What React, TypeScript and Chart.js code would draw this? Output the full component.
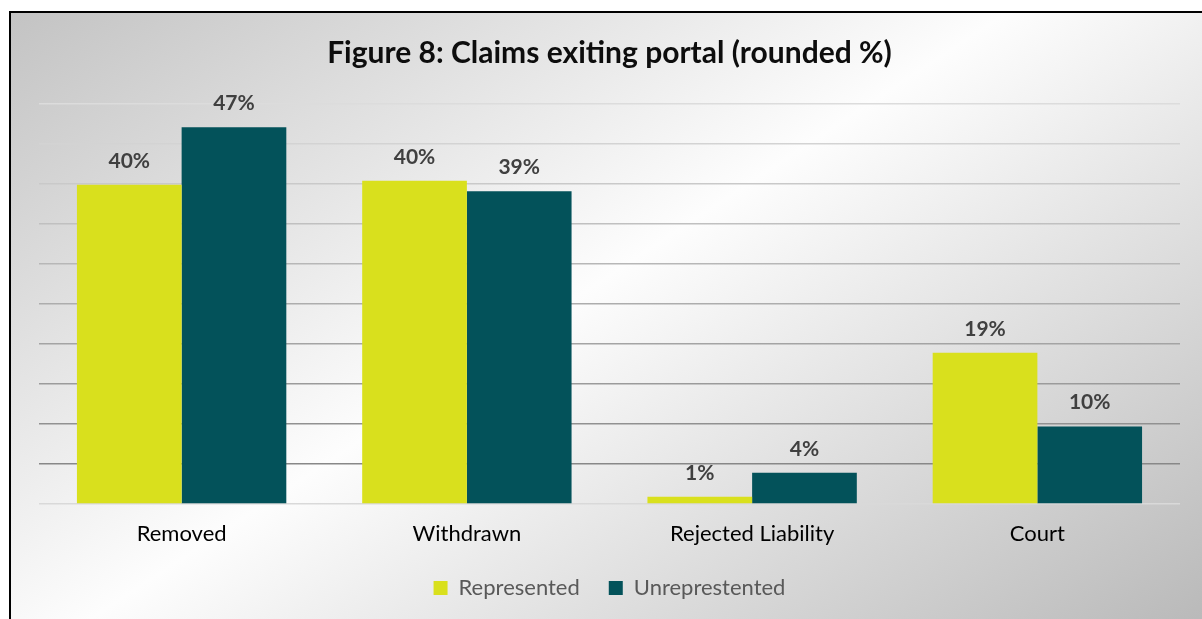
import React, { useEffect, useRef } from "react";
import { Chart, registerables } from "chart.js";

Chart.register(...registerables);

const categories = ["Removed", "Withdrawn", "Rejected Liability", "Court"];
const represented = [39.9, 40.4, 0.9, 18.9];
const unrepresented = [47.1, 39.1, 3.9, 9.7];
const seriesNames = ["Represented", "Unreprestented"];
const titleText = "Figure 8: Claims exiting portal (rounded %)";
const yMin = 0;
const yMax = 50;
const yStep = 5;

const FONT = "Lato, 'Open Sans', sans-serif";
const W = 1202;
const H = 619;

const backgroundPlugin = {
  id: "bgPanel",
  beforeDraw(chart: any) {
    const ctx = chart.ctx as CanvasRenderingContext2D;
    ctx.save();
    ctx.fillStyle = "#ffffff";
    ctx.fillRect(0, 0, chart.width, chart.height);
    const ux = 0.552, uy = 0.834;
    const wx = 620, wy = 268;
    const g = ctx.createLinearGradient(wx - 560 * ux, wy - 560 * uy, wx + 620 * ux, wy + 620 * uy);
    g.addColorStop(0, "#c2c2c2");
    g.addColorStop(0.475, "#fdfdfd");
    g.addColorStop(1, "#b9b9b9");
    ctx.fillStyle = g;
    ctx.fillRect(10, 12, chart.width - 10, chart.height - 12);
    ctx.strokeStyle = "#000000";
    ctx.lineWidth = 2;
    ctx.beginPath();
    ctx.moveTo(10, chart.height);
    ctx.lineTo(10, 12);
    ctx.lineTo(chart.width, 12);
    ctx.stroke();
    ctx.restore();
  },
};

const valueLabelPlugin = {
  id: "valueLabels",
  afterDatasetsDraw(chart: any) {
    const ctx = chart.ctx as CanvasRenderingContext2D;
    ctx.save();
    ctx.font = `bold 21px ${FONT}`;
    ctx.fillStyle = "#404040";
    ctx.textAlign = "center";
    ctx.textBaseline = "middle";
    chart.data.datasets.forEach((ds: any, di: number) => {
      const meta = chart.getDatasetMeta(di);
      meta.data.forEach((bar: any, i: number) => {
        const v = ds.data[i] as number;
        ctx.fillText(`${Math.round(v)}%`, bar.x, bar.y - 24);
      });
    });
    ctx.restore();
  },
};

function gridColor(index: number): string {
  if (index === 0) return "#d9d9d9";
  const g = Math.round(136 + ((index - 1) * (220 - 136)) / 9);
  return `rgb(${g},${g},${g})`;
}

export default function App() {
  const canvasRef = useRef<HTMLCanvasElement | null>(null);

  useEffect(() => {
    if (!canvasRef.current) return;
    const chart = new Chart(canvasRef.current, {
      type: "bar",
      data: {
        labels: categories,
        datasets: [
          {
            label: seriesNames[0],
            data: represented,
            backgroundColor: "#d9e01d",
            borderWidth: 0,
            categoryPercentage: 0.734,
            barPercentage: 1,
          },
          {
            label: seriesNames[1],
            data: unrepresented,
            backgroundColor: "#03525a",
            borderWidth: 0,
            categoryPercentage: 0.734,
            barPercentage: 1,
          },
        ],
      },
      options: {
        responsive: false,
        animation: false,
        devicePixelRatio: 1,
        layout: { padding: { left: 39, right: 22, top: 0, bottom: 10 } },
        plugins: {
          tooltip: { enabled: false },
          title: {
            display: true,
            text: titleText,
            color: "#0d0d0d",
            font: { family: FONT, size: 30, weight: "bold", lineHeight: 1.2 },
            padding: { top: 35, bottom: 33 },
          },
          legend: {
            display: true,
            position: "bottom",
            labels: {
              color: "#595959",
              font: { family: FONT, size: 22 },
              boxWidth: 14,
              boxHeight: 14,
              padding: 29,
            },
          },
        },
        scales: {
          x: {
            grid: { display: false, drawTicks: false },
            border: { display: false },
            ticks: {
              color: "#000000",
              font: { family: FONT, size: 22 },
              padding: 16.8,
            },
            afterFit: (s: any) => {
              s.height = 44;
            },
          },
          y: {
            min: yMin,
            max: yMax,
            ticks: { display: false, stepSize: yStep },
            border: { display: false },
            grid: {
              drawTicks: false,
              lineWidth: 1.6,
              color: (c: any) => gridColor(c.index),
            },
          },
        },
      },
      plugins: [backgroundPlugin, valueLabelPlugin],
    });
    return () => chart.destroy();
  }, []);

  return (
    <div style={{ position: "absolute", left: 0, top: 0, width: W, height: H }}>
      <canvas ref={canvasRef} width={W} height={H} style={{ width: W, height: H, display: "block" }} />
    </div>
  );
}
